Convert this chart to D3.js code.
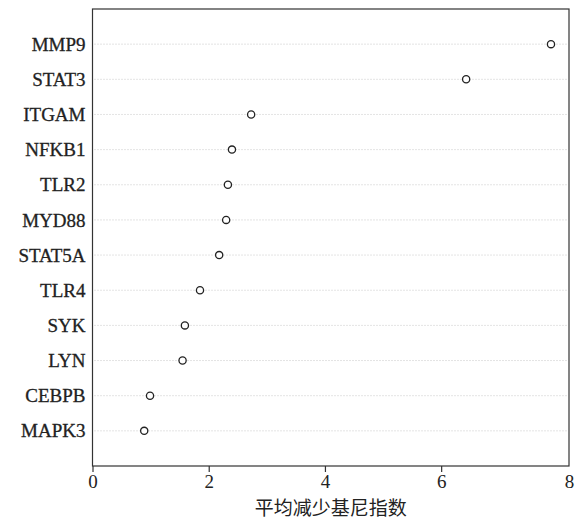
<!DOCTYPE html>
<html>
<head>
<meta charset="utf-8">
<script src="https://cdn.jsdelivr.net/npm/d3@7"></script>
<style>
  body { margin: 0; background: #fff; }
  svg { display: block; }
</style>
</head>
<body>
<svg id="chart" width="580" height="520"></svg>
<script>
// genes, top to bottom
const genes = ["MMP9", "STAT3", "ITGAM", "NFKB1", "TLR2", "MYD88", "STAT5A", "TLR4", "SYK", "LYN", "CEBPB", "MAPK3"]
const giniDecrease = [7.89, 6.43, 2.73, 2.40, 2.33, 2.30, 2.18, 1.85, 1.59, 1.55, 0.99, 0.89]
const xTicks = [0, 2, 4, 6, 8]
const xTitle = "平均减少基尼指数"

const serif = "'Liberation Serif', 'Times New Roman', 'DejaVu Serif', serif"

const margin = { left: 92.5, right: 11, top: 9, bottom: 54 },
    width = 580 - margin.left - margin.right,
    height = 520 - margin.top - margin.bottom

const svg = d3.select("#chart")
const g = svg.append("g")
    .attr("transform", "translate(" + margin.left + "," + margin.top + ")")

// x scale, R style padding on the right
const x = d3.scaleLinear().domain([0, 8.2]).range([0, width])
// rows 1..n, 0 and n+1 as padding
const y = d3.scaleLinear().domain([0, genes.length + 1]).range([height, 0])
const rowY = (i) => y(genes.length - i)

// dotted guide lines
g.selectAll(".guide")
    .data(genes)
    .enter()
    .append("line")
        .attr("x1", 2)
        .attr("x2", width - 1)
        .attr("y1", (d, i) => rowY(i))
        .attr("y2", (d, i) => rowY(i))
        .attr("stroke", "#c8c8c8")
        .attr("stroke-width", 1)
        .attr("stroke-dasharray", "1,2")

// points
g.selectAll("circle")
    .data(giniDecrease)
    .enter()
    .append("circle")
        .attr("cx", d => x(d))
        .attr("cy", (d, i) => rowY(i))
        .attr("r", 3.6)
        .attr("fill", "#fff")
        .attr("stroke", "#222")
        .attr("stroke-width", 1.3)

// box
g.append("rect")
    .attr("width", width)
    .attr("height", height)
    .attr("fill", "none")
    .attr("stroke", "#333")
    .attr("stroke-width", 1.2)

// gene labels
g.selectAll(".gene")
    .data(genes)
    .enter()
    .append("text")
        .attr("x", -7)
        .attr("y", (d, i) => rowY(i))
        .attr("dy", "0.35em")
        .attr("text-anchor", "end")
        .style("font-family", serif)
        .style("font-size", "19px")
        .attr("fill", "#222")
        .attr("stroke", "#222")
        .attr("stroke-width", 0.3)
        .text(d => d)

// x axis: last label sits at the end of the axis, without a tick
const xAxis = g.append("g")
    .attr("transform", "translate(0," + height + ")")
    .call(d3.axisBottom(x)
        .tickValues(xTicks.slice(0, -1).concat([x.domain()[1]]))
        .tickFormat((d, i) => String(xTicks[i]))
        .tickSize(6)
        .tickPadding(3))

xAxis.select(".domain").remove()
xAxis.selectAll(".tick line").attr("stroke", "#333").attr("stroke-width", 1.2)
xAxis.selectAll(".tick:last-of-type line").remove()
xAxis.selectAll(".tick text")
    .style("font-family", serif)
    .style("font-size", "19px")
    .attr("fill", "#222")

// x title
g.append("text")
    .attr("x", width / 2)
    .attr("y", height + 49)
    .attr("text-anchor", "middle")
    .style("font-family", "'Noto Sans CJK SC', sans-serif")
    .style("font-size", "19px")
    .attr("fill", "#222")
    .text(xTitle)
</script>
</body>
</html>
